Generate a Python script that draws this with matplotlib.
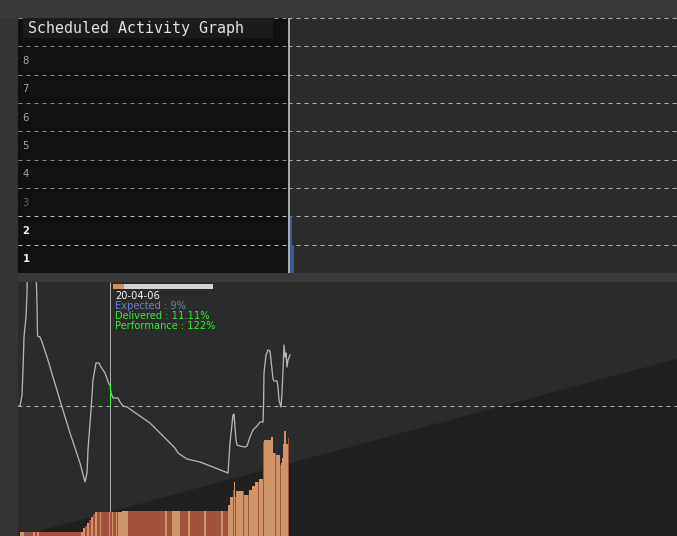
import matplotlib
matplotlib.use('Agg')
import matplotlib.pyplot as plt
from matplotlib.patches import Rectangle

plt.rcParams['lines.scale_dashes'] = False

W, H = 677, 536

# ---- data ----
row_labels = ['1', '2', '3', '4', '5', '6', '7', '8']
today_day = 271
activity_rows = [1, 2]
activity_start = [272, 272]
activity_len = [4, 2]

# expected progress (percent), linear over the panel
expected_day = [0, 659]
expected_pct = [0, 82.4]

# delivered bars: start day, end day, percent, tone
bar_start = [2, 6, 15, 17, 19, 21, 63,
             65, 67, 69, 71, 73, 75, 77,
             78, 79, 82, 83, 91, 92, 94, 95, 98, 99,
             100, 104, 110, 147, 149, 154, 162, 170, 172, 186, 188, 203, 205,
             210, 212, 215, 216, 217, 218, 225, 226, 230, 231, 234, 237, 240, 241,
             245, 246, 253, 255, 257, 258, 262, 263, 264, 265, 266, 268, 270]
bar_end = [6, 15, 17, 19, 21, 63, 65,
           67, 69, 71, 73, 75, 77, 78,
           79, 82, 83, 91, 92, 94, 95, 98, 99, 100,
           104, 110, 147, 149, 154, 162, 170, 172, 186, 188, 203, 205, 210,
           212, 215, 216, 217, 218, 225, 226, 230, 231, 234, 237, 240, 241, 245,
           246, 253, 255, 257, 258, 262, 263, 264, 265, 266, 268, 270, 271]
bar_pct = [1.85, 1.85, 1.85, 1.85, 1.85, 1.85, 1.85,
           3.7, 4.6, 6.0, 7.4, 8.8, 10.2, 11.1,
           11.1, 11.1, 11.1, 11.1, 11.1, 11.1, 11.1, 11.1, 11.1, 11.1,
           11.1, 11.6, 11.6, 11.6, 11.6, 11.6, 11.6, 11.6, 11.6, 11.6, 11.6, 11.6, 11.6,
           14.4, 18.1, 21.3, 25.0, 18.1, 20.8, 20.8, 19.0, 19.0, 21.3, 23.1, 25.0, 25.0, 26.4,
           43.5, 44.4, 45.8, 38.4, 38.4, 37.5, 32.9, 33.8, 36.1, 42.6, 48.6, 42.6, 45.4]
bar_tone = ['L', 'D', 'L', 'D', 'L', 'D', 'L',
            'L', 'D', 'L', 'D', 'L', 'D', 'L',
            'L', 'D', 'L', 'D', 'L', 'D', 'L', 'D', 'L', 'D',
            'L', 'L', 'D', 'L', 'D', 'L', 'D', 'L', 'D', 'L', 'D', 'L', 'D',
            'L', 'L', 'D', 'L', 'D', 'L', 'D', 'L', 'D', 'L', 'L', 'L', 'D', 'L',
            'D', 'L', 'L', 'L', 'D', 'L', 'D', 'L', 'L', 'L', 'L', 'L', 'D']

# performance line (percent)
perf_day = [0, 2, 4, 5, 6, 8, 9, 10, 17, 18, 19, 19.5, 22, 24, 29, 35, 44, 52, 62, 67,
            69, 70, 73, 75, 78, 81, 83, 87, 91, 92, 93, 95, 100, 102, 105, 109, 132,
            157, 160, 169, 182, 195, 210, 212, 215, 216, 217, 218, 219, 222, 227, 229,
            232, 235, 239, 242, 245, 245.5, 246, 248, 250, 252, 253, 255, 256, 259,
            260, 261, 263, 264, 265, 266, 267, 268, 269, 270, 272]
perf_pct = [100, 100, 111, 136, 169, 189, 213, 266, 266, 236, 203, 170, 169, 164, 149, 129,
            99, 73, 43, 24, 33, 56, 96, 126, 143, 143, 139, 133, 122, 121, 113, 108, 108,
            104, 100, 99, 83, 58, 53, 47, 44, 39, 33, 63, 91, 92, 79, 66, 61, 60, 59, 60,
            69, 76, 80, 84, 84, 99, 133, 151, 156, 155, 146, 127, 125, 125, 119, 106, 99,
            113, 136, 161, 149, 153, 139, 146, 151]

cursor_day = 91
tip_date = '20-04-06'
tip_expected = 9
tip_delivered = 11.11
tip_performance = 122

# ---- figure ----
fig = plt.figure(figsize=(W / 100, H / 100), dpi=100, facecolor='#393939')
fig.add_artist(Rectangle((0, 0), 18 / W, 1 - 18 / H, transform=fig.transFigure,
                         color='#343434', lw=0, zorder=0))

dash = (0, (2.88, 2.88))
px = 0.72

# top panel: scheduled activity
ax = fig.add_axes([18 / W, 1 - 273 / H, 659 / W, 255 / H])
ax.set_facecolor('#2b2b2b')
ax.set_xlim(0, 659)
ax.set_ylim(0, 9)
ax.axvspan(0, 270, color='#111111', lw=0, zorder=0)
for k in range(1, 10):
    left_col = '#bbbbbb' if k <= 2 else '#8a8a8a'
    l1 = ax.hlines(k, 0, 270, colors=left_col, lw=px, linestyles=dash, clip_on=False, zorder=1)
    l2 = ax.hlines(k, 270, 659, colors='#b0b0b0', lw=px, linestyles=dash, clip_on=False, zorder=1)
    l1.set_snap(True)
    l2.set_snap(True)
for i, lab in enumerate(row_labels):
    n = i + 1
    if n <= 2:
        col, wt = '#f4f4f4', 'bold'
    elif n == 3:
        col, wt = '#666666', 'normal'
    else:
        col, wt = '#a8a8a8', 'normal'
    ax.text(4.5, n - 0.624, lab, color=col, fontsize=7.2, fontweight=wt,
            va='baseline', ha='left')
ax.bar(activity_start, [1, 1], width=activity_len, bottom=[r - 1 for r in activity_rows],
       align='edge', color='#3d5a8c', lw=0, zorder=2)
ax.vlines(today_day, 0, 9, colors='#aaaaaa', lw=1.44, zorder=3)
for s in ax.spines.values():
    s.set_visible(False)
ax.set_xticks([])
ax.set_yticks([])

fig.add_artist(Rectangle((23 / W, 1 - 38 / H), 250 / W, 20 / H, transform=fig.transFigure,
                         color='#1c1c1c', lw=0, zorder=5))
fig.text(28 / W, 1 - 33.3 / H, 'Scheduled Activity Graph', family='DejaVu Sans Mono',
         fontsize=10.8, color='#e2e2e2', va='baseline', ha='left', zorder=6)

# bottom panel: delivered bars + performance line
axb = fig.add_axes([18 / W, 0, 659 / W, 254 / H])
axb.set_facecolor('#2b2b2b')
axb.set_xlim(0, 659)
axb.set_ylim(0, 117.6)
axb.fill_between(expected_day, expected_pct, 0, color='#202020', lw=0, zorder=0.5)
axb.vlines(cursor_day + 0.5, 0, 117.6, colors='#aaaaaa', lw=px, zorder=1)
tone_col = {'L': '#cf9569', 'D': '#a3523b'}
axb.bar(bar_start, bar_pct, width=[e - s for s, e in zip(bar_start, bar_end)],
        align='edge', color=[tone_col[t] for t in bar_tone], lw=0, zorder=2)
for s in axb.spines.values():
    s.set_visible(False)
axb.set_xticks([])
axb.set_yticks([])

axp = axb.twinx()
axp.set_ylim(-30, 224)
axp.patch.set_visible(False)
hl = axp.hlines(100, 0, 659, colors='#b0b0b0', lw=px, linestyles=dash, zorder=1)
hl.set_snap(True)
axp.plot(perf_day, perf_pct, color='#b4b4b4', lw=0.95, zorder=3)
axp.vlines(cursor_day + 0.5, 100, tip_performance, colors='#22ff22', lw=px, zorder=4)
for s in axp.spines.values():
    s.set_visible(False)
axp.set_xticks([])
axp.set_yticks([])

# tooltip
fig.add_artist(Rectangle((113 / W, 1 - 289 / H), 100 / W, 5 / H, transform=fig.transFigure,
                         color='#d2d2d2', lw=0, zorder=5))
fig.add_artist(Rectangle((113 / W, 1 - 289 / H), tip_delivered / W, 5 / H,
                         transform=fig.transFigure, color='#cf9060', lw=0, zorder=6))
tips = [(tip_date, '#f4f4f4'),
        ('Expected : %d%%' % tip_expected, '#6a7fd0'),
        ('Delivered : %.2f%%' % tip_delivered, '#33ee33'),
        ('Performance : %d%%' % tip_performance, '#33ee33')]
for i, (t, c) in enumerate(tips):
    fig.text(115 / W, 1 - (299 + 10 * i) / H, t, color=c, fontsize=7.1,
             va='baseline', ha='left', zorder=6)

fig.savefig('out.png', dpi=100, facecolor=fig.get_facecolor())
